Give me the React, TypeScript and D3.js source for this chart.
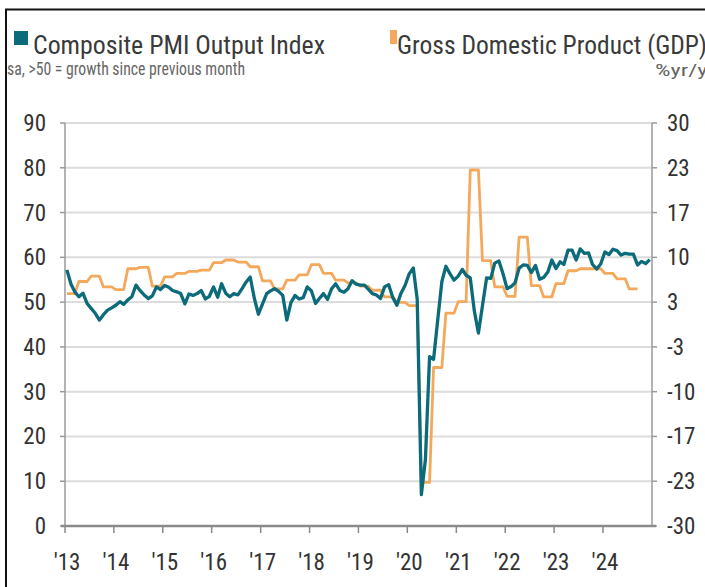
import React from 'react';
import * as d3 from 'd3';

// ---- data ----
const yearLabels = ["'13", "'14", "'15", "'16", "'17", "'18", "'19", "'20", "'21", "'22", "'23", "'24"];
const leftTicks = [0, 10, 20, 30, 40, 50, 60, 70, 80, 90];

// Composite PMI Output Index (monthly, sa)
const pmi2013 = [57.2, 54.0, 52.3, 51.2, 52.0, 49.7, 48.6, 47.5, 46.0, 47.2, 48.2, 48.7];
const pmi2014 = [49.3, 50.1, 49.5, 50.5, 51.2, 53.8, 52.6, 51.6, 50.8, 51.4, 53.4, 52.8];
const pmi2015 = [53.7, 53.3, 52.6, 52.3, 51.9, 49.6, 51.8, 51.5, 51.9, 52.6, 50.7, 51.3];
const pmi2016 = [53.4, 51.1, 54.1, 52.0, 51.2, 51.9, 51.6, 53.0, 54.5, 55.6, 50.8, 47.3];
const pmi2017 = [49.6, 51.9, 52.5, 53.0, 52.4, 51.5, 46.0, 49.9, 51.5, 50.7, 51.0, 53.4];
const pmi2018 = [52.5, 49.7, 50.8, 51.9, 50.6, 53.0, 54.1, 52.6, 52.2, 53.0, 54.8, 54.0];
const pmi2019 = [53.8, 53.8, 52.9, 51.9, 51.6, 50.8, 53.4, 53.9, 51.0, 49.3, 52.0, 53.7];
const pmi2020 = [56.3, 57.6, 50.6, 7.0, 14.8, 37.8, 37.2, 46.0, 54.6, 58.0, 56.3, 54.9];
const pmi2021 = [55.8, 57.3, 56.0, 55.4, 48.1, 43.1, 49.2, 55.4, 55.3, 58.7, 59.2, 56.4];
const pmi2022 = [53.0, 53.5, 54.3, 57.6, 58.3, 58.2, 56.6, 58.2, 55.1, 55.5, 56.7, 59.4];
const pmi2023 = [57.5, 59.0, 58.4, 61.6, 61.6, 59.4, 61.9, 60.9, 61.0, 58.4, 57.4, 58.5];
const pmi2024 = [61.2, 60.6, 61.8, 61.5, 60.5, 60.9, 60.7, 60.7, 58.3, 59.1, 58.6, 59.5];

// Gross Domestic Product, % yr/yr (quarterly, Q1..Q4)
const gdp2013 = [4.6, 6.4, 7.2, 5.6];
const gdp2014 = [5.2, 8.3, 8.5, 5.7];
const gdp2015 = [7.1, 7.6, 7.9, 8.1];
const gdp2016 = [9.2, 9.6, 9.3, 8.6];
const gdp2017 = [6.5, 5.3, 6.6, 7.4];
const gdp2018 = [8.9, 7.6, 6.6, 6.2];
const gdp2019 = [5.7, 5.1, 4.1, 3.3];
const gdp2020 = [2.8, -23.5, -6.4, 1.7];
const gdp2021 = [3.4, 23.0, 9.5, 5.6];
const gdp2022 = [4.2, 13.0, 5.8, 4.1];
const gdp2023 = [6.1, 8.0, 8.3, 8.3];
const gdp2024 = [7.6, 6.8, 5.3];

const pmiYears = [pmi2013, pmi2014, pmi2015, pmi2016, pmi2017, pmi2018, pmi2019, pmi2020, pmi2021, pmi2022, pmi2023, pmi2024];
const gdpYears = [gdp2013, gdp2014, gdp2015, gdp2016, gdp2017, gdp2018, gdp2019, gdp2020, gdp2021, gdp2022, gdp2023, gdp2024];

// ---- layout ----
const W = 705;
const H = 587;
const FONT = "'Liberation Sans Narrow', 'Arial Narrow', 'Roboto Condensed', 'DejaVu Sans Condensed', sans-serif";
const TEAL = '#0b6b7a';
const ORANGE = '#f3a85c';

const x = d3.scaleTime().domain([new Date(2013, 0, 1), new Date(2025, 0, 1)]).range([65, 652]);
const yL = d3.scaleLinear().domain([0, 90]).range([526, 123]);
const yR = d3.scaleLinear().domain([-30, 30]).range([526, 123]);

type Pt = { d: Date; v: number };

const pmiPts: Pt[] = [];
pmiYears.forEach((arr, yi) => arr.forEach((v, m) => pmiPts.push({ d: new Date(2013 + yi, m, 15), v })));

const gdpPts: Pt[] = [];
gdpYears.forEach((arr, yi) =>
  arr.forEach((v, q) => {
    for (let k = 0; k < 3; k++) gdpPts.push({ d: new Date(2013 + yi, q * 3 + k, 15), v });
  })
);

const pmiLine = d3.line<Pt>().x((p) => x(p.d)).y((p) => yL(p.v))(pmiPts) || '';
const gdpLine = d3.line<Pt>().x((p) => x(p.d)).y((p) => yR(p.v))(gdpPts) || '';

const rightTicks = leftTicks.map((t) => yR.invert(yL(t)));
const yearTicks = yearLabels.map((_, i) => new Date(2013 + i, 0, 1));

export default function App() {
  const [x0, x1] = x.range();
  const [yb, yt] = yL.range();
  return (
    <svg width={W} height={H} style={{ position: 'absolute', left: 0, top: 0, background: '#fff' }} fontFamily={FONT}>
      <rect x={0} y={0} width={W} height={H} fill="#fff" />
      {/* border */}
      <line x1={5} x2={W} y1={9.5} y2={9.5} stroke="#111" strokeWidth={2} />
      <line x1={6} x2={6} y1={9} y2={H} stroke="#111" strokeWidth={2} />

      {/* titles */}
      <rect x={14} y={31} width={14} height={14} fill={TEAL} />
      <text x={33} y={53.5} fontSize={25} fill="#3a3a3a" textLength={292} lengthAdjust="spacingAndGlyphs">
        Composite PMI Output Index
      </text>
      <text x={7} y={75} fontSize={18} fill="#666" textLength={238} lengthAdjust="spacingAndGlyphs">
        sa, &gt;50 = growth since previous month
      </text>
      <rect x={390} y={30} width={7} height={14} fill={ORANGE} />
      <text x={397} y={53.5} fontSize={25} fill="#3a3a3a" textLength={310} lengthAdjust="spacingAndGlyphs">
        Gross Domestic Product (GDP)
      </text>
      <text x={655} y={76} fontSize={17} fill="#666" textLength={60} lengthAdjust="spacingAndGlyphs">
        %yr/yr
      </text>

      {/* gridlines */}
      {leftTicks.slice(1).map((t) => (
        <line key={'g' + t} x1={x0} x2={x1} y1={yL(t)} y2={yL(t)} stroke="#dcdcdc" strokeWidth={2} />
      ))}

      {/* axes */}
      <line x1={x0} x2={x0} y1={yt} y2={yb} stroke="#9a9a9a" strokeWidth={1.5} />
      <line x1={x1} x2={x1} y1={yt} y2={yb} stroke="#9a9a9a" strokeWidth={1.5} />
      {leftTicks.map((t) => (
        <g key={'l' + t}>
          <line x1={x0 - 5} x2={x0} y1={yL(t)} y2={yL(t)} stroke="#9a9a9a" strokeWidth={1.5} />
          <text x={46} y={yL(t) + 8} fontSize={23} fill="#333" textAnchor="end">
            {t}
          </text>
        </g>
      ))}
      {rightTicks.map((t, i) => (
        <g key={'r' + i}>
          <line x1={x1} x2={x1 + 5} y1={yR(t)} y2={yR(t)} stroke="#9a9a9a" strokeWidth={1.5} />
          <text x={667} y={yR(t) + 8} fontSize={23} fill="#333">
            {Math.round(t)}
          </text>
        </g>
      ))}

      {/* series */}
      <path d={gdpLine} fill="none" stroke={ORANGE} strokeWidth={2.8} strokeLinejoin="round" />
      <path d={pmiLine} fill="none" stroke={TEAL} strokeWidth={3.3} strokeLinejoin="round" />

      {/* x axis */}
      <line x1={x0 - 4} x2={x1 + 4} y1={yb} y2={yb} stroke="#8a8a8a" strokeWidth={2.5} />
      {yearTicks.map((d, i) => (
        <g key={'x' + i}>
          <line x1={x(d)} x2={x(d)} y1={yb} y2={yb + 7} stroke="#8a8a8a" strokeWidth={1.5} />
          <text x={x(d) + 2} y={570} fontSize={23} fill="#333" textAnchor="middle">
            {yearLabels[i]}
          </text>
        </g>
      ))}
    </svg>
  );
}
